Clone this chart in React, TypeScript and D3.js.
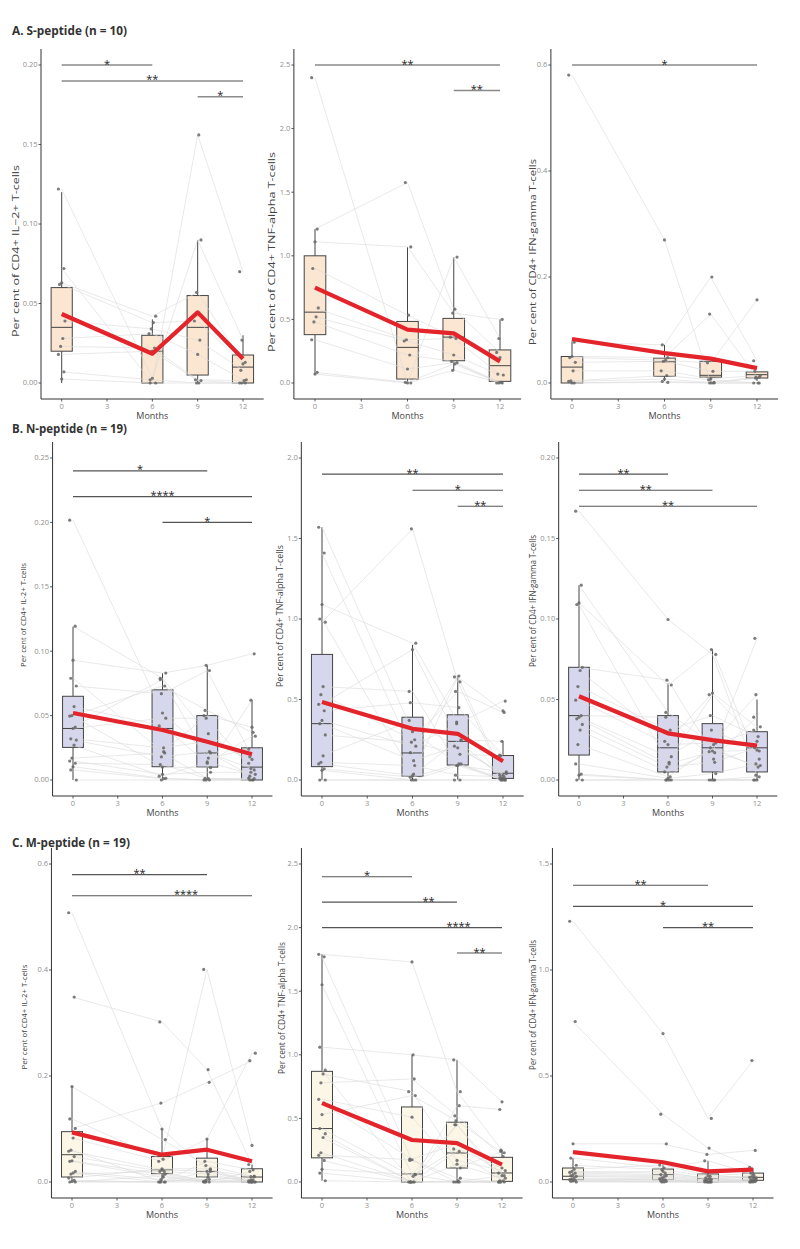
import * as d3 from 'd3';
import * as React from 'react';

const months = [0, 6, 9, 12];
const xTicks = [0, 3, 6, 9, 12];

// ---- A. S-peptide (n = 10) ----
// rows are subjects, columns months 0, 6, 9, 12
const sIl2Subjects = [
  [0.122, 0.003, 0.09, 0.027],
  [0.072, 0.0, 0.156, 0.07],
  [0.063, 0.042, 0.057, 0.013],
  [0.062, 0.038, 0.039, 0.012],
  [0.039, 0.034, 0.027, 0.008],
  [0.028, 0.031, 0.018, 0.002],
  [0.023, 0.022, 0.002, 0.0015],
  [0.018, 0.02, 0.0015, 0.0],
  [0.007, 0.002, 0.0, 0.0],
  [0.0025, 0.0, 0.0, 0.0],
];
// [min, q1, median, q3, max] per month
const sIl2Box = [
  [0.0, 0.02, 0.035, 0.06, 0.12],
  [0.0, 0.0, 0.02, 0.03, 0.04],
  [0.0, 0.005, 0.035, 0.055, 0.09],
  [0.0, 0.0, 0.01, 0.0176, 0.03],
];
const sIl2Mean = [0.0434, 0.0184, 0.0444, 0.0153];
const sIl2Sig = [
  { from: 0, to: 6, y: 0.2, stars: '*' },
  { from: 0, to: 12, y: 0.19, stars: '**' },
  { from: 9, to: 12, y: 0.18, stars: '*' },
];

const sTnfSubjects = [
  [2.4, 0.0, 0.99, 0.35],
  [1.21, 1.576, 0.58, 0.24],
  [1.11, 1.07, 0.55, 0.5],
  [0.9, 0.534, 0.36, 0.2],
  [0.59, 0.34, 0.35, 0.07],
  [0.52, 0.33, 0.22, 0.063],
  [0.48, 0.22, 0.17, 0.005],
  [0.34, 0.11, 0.16, 0.0],
  [0.084, 0.005, 0.15, 0.0],
  [0.07, 0.0, 0.1, 0.0],
];
const sTnfBox = [
  [0.07, 0.38, 0.557, 1.0, 1.21],
  [0.0, 0.031, 0.28, 0.484, 1.07],
  [0.1, 0.175, 0.361, 0.508, 0.99],
  [0.0, 0.013, 0.136, 0.26, 0.5],
];
const sTnfMean = [0.75, 0.42, 0.39, 0.17];
const sTnfSig = [
  { from: 0, to: 12, y: 2.5, stars: '**' },
  { from: 9, to: 12, y: 2.3, stars: '**' },
];

const sIfnSubjects = [
  [0.581, 0.27, 0.0, 0.009],
  [0.077, 0.072, 0.2, 0.042],
  [0.05, 0.048, 0.13, 0.011],
  [0.048, 0.043, 0.038, 0.157],
  [0.039, 0.041, 0.022, 0.022],
  [0.023, 0.023, 0.008, 0.014],
  [0.004, 0.014, 0.006, 0.0],
  [0.003, 0.0075, 0.001, 0.011],
  [0.0, 0.003, 0.0, 0.0],
  [0.0, 0.001, 0.0, 0.0],
];
const sIfnBox = [
  [0.0, 0.0, 0.03, 0.05, 0.079],
  [0.004, 0.0126, 0.04, 0.047, 0.072],
  [0.0, 0.011, 0.0145, 0.041, 0.041],
  [0.004, 0.0094, 0.0157, 0.021, 0.022],
];
const sIfnMean = [0.083, 0.0565, 0.046, 0.028];
const sIfnSig = [{ from: 0, to: 12, y: 0.6, stars: '*' }];

// ---- B. N-peptide (n = 19) ----
const nIl2Subjects = [
  [0.2017, 0.052, 0.021, 0.009],
  [0.1194, 0.079, 0.036, 0.013],
  [0.093, 0.083, 0.089, 0.098],
  [0.079, 0.022, 0.05, 0.041],
  [0.073, 0.067, 0.085, 0.018],
  [0.057, 0.042, 0.013, 0.034],
  [0.05, 0.073, 0.054, 0.037],
  [0.0496, 0.01, 0.0096, 0.062],
  [0.041, 0.078, 0.017, 0.024],
  [0.04, 0.048, 0.048, 0.0078],
  [0.032, 0.025, 0.03, 0.016],
  [0.031, 0.018, 0.022, 0.003],
  [0.027, 0.003, 0.014, 0.0044],
  [0.017, 0.021, 0.0013, 0.0],
  [0.0147, 0.0044, 0.006, 0.006],
  [0.013, 0.012, 0.001, 0.0013],
  [0.0103, 0.0013, 0.0, 0.001],
  [0.0078, 0.001, 0.0, 0.0],
  [0.0, 0.0, 0.0, 0.0],
];
const nIl2Box = [
  [0.0, 0.0253, 0.04, 0.065, 0.119],
  [0.001, 0.0103, 0.04, 0.07, 0.083],
  [0.0, 0.01, 0.021, 0.05, 0.089],
  [0.0, 0.0, 0.01, 0.025, 0.062],
];
const nIl2Mean = [0.052, 0.0388, 0.0297, 0.02];
const nIl2Sig = [
  { from: 0, to: 9, y: 0.24, stars: '*' },
  { from: 0, to: 12, y: 0.22, stars: '****' },
  { from: 6, to: 12, y: 0.2, stars: '*' },
];

const nTnfSubjects = [
  [1.57, 0.3, 0.1, 0.0],
  [1.41, 0.17, 0.646, 0.03],
  [1.09, 0.85, 0.36, 0.0],
  [1.0, 0.037, 0.64, 0.43],
  [0.98, 1.56, 0.61, 0.015],
  [0.58, 0.55, 0.09, 0.05],
  [0.53, 0.25, 0.55, 0.42],
  [0.47, 0.81, 0.25, 0.24],
  [0.43, 0.48, 0.45, 0.155],
  [0.37, 0.21, 0.35, 0.49],
  [0.35, 0.12, 0.21, 0.03],
  [0.28, 0.235, 0.16, 0.15],
  [0.15, 0.37, 0.2, 0.04],
  [0.11, 0.09, 0.03, 0.02],
  [0.1, 0.027, 0.245, 0.01],
  [0.07, 0.017, 0.1, 0.01],
  [0.06, 0.0, 0.09, 0.0],
  [0.0, 0.0, 0.0, 0.0],
  [0.0, 0.0, 0.0, 0.0],
];
const nTnfBox = [
  [0.0, 0.083, 0.35, 0.78, 1.57],
  [0.0, 0.023, 0.168, 0.39, 0.84],
  [0.0, 0.093, 0.24, 0.405, 0.646],
  [0.0, 0.01, 0.042, 0.152, 0.24],
];
const nTnfMean = [0.484, 0.318, 0.287, 0.116];
const nTnfSig = [
  { from: 0, to: 12, y: 1.9, stars: '**' },
  { from: 6, to: 12, y: 1.8, stars: '*' },
  { from: 9, to: 12, y: 1.7, stars: '**' },
];

const nIfnSubjects = [
  [0.167, 0.0997, 0.078, 0.003],
  [0.121, 0.042, 0.022, 0.031],
  [0.11, 0.059, 0.081, 0.013],
  [0.109, 0.011, 0.053, 0.024],
  [0.07, 0.062, 0.017, 0.088],
  [0.068, 0.024, 0.054, 0.033],
  [0.058, 0.031, 0.04, 0.027],
  [0.0496, 0.022, 0.023, 0.053],
  [0.04, 0.039, 0.013, 0.039],
  [0.039, 0.0145, 0.031, 0.018],
  [0.038, 0.01, 0.0176, 0.0186],
  [0.0345, 0.008, 0.011, 0.02],
  [0.031, 0.005, 0.018, 0.009],
  [0.022, 0.002, 0.02, 0.008],
  [0.01, 0.001, 0.004, 0.01],
  [0.0037, 0.0, 0.0, 0.0],
  [0.003, 0.0, 0.0, 0.002],
  [0.0, 0.0, 0.0, 0.0],
  [0.0, 0.0, 0.0, 0.0],
];
const nIfnBox = [
  [0.0, 0.0155, 0.04, 0.07, 0.121],
  [0.0, 0.005, 0.02, 0.04, 0.06],
  [0.0, 0.005, 0.02, 0.035, 0.081],
  [0.0, 0.005, 0.02, 0.03, 0.05],
];
const nIfnMean = [0.052, 0.029, 0.0248, 0.0213];
const nIfnSig = [
  { from: 0, to: 6, y: 0.19, stars: '**' },
  { from: 0, to: 9, y: 0.18, stars: '**' },
  { from: 0, to: 12, y: 0.17, stars: '**' },
];

// ---- C. M-peptide (n = 19) ----
const mIl2Subjects = [
  [0.508, 0.1, 0.023, 0.01],
  [0.349, 0.302, 0.212, 0.033],
  [0.18, 0.08, 0.031, 0.011],
  [0.119, 0.043, 0.401, 0.069],
  [0.101, 0.149, 0.188, 0.229],
  [0.083, 0.039, 0.081, 0.243],
  [0.06, 0.0, 0.039, 0.023],
  [0.058, 0.023, 0.02, 0.004],
  [0.048, 0.02, 0.015, 0.0],
  [0.04, 0.015, 0.003, 0.01],
  [0.039, 0.009, 0.001, 0.0],
  [0.02, 0.0044, 0.0, 0.02],
  [0.017, 0.0, 0.02, 0.0],
  [0.015, 0.02, 0.0, 0.004],
  [0.0075, 0.025, 0.025, 0.0],
  [0.003, 0.0, 0.01, 0.002],
  [0.001, 0.0, 0.0, 0.0],
  [0.0, 0.012, 0.0, 0.0],
  [0.0, 0.0, 0.005, 0.0],
];
const mIl2Box = [
  [0.0, 0.0094, 0.0515, 0.095, 0.18],
  [0.0, 0.0157, 0.023, 0.048, 0.1],
  [0.0, 0.0094, 0.02, 0.045, 0.081],
  [0.0, 0.0, 0.0094, 0.025, 0.033],
];
const mIl2Mean = [0.0936, 0.0515, 0.061, 0.039];
const mIl2Sig = [
  { from: 0, to: 9, y: 0.58, stars: '**' },
  { from: 0, to: 12, y: 0.54, stars: '****', at: 7.6 },
];

const mTnfSubjects = [
  [1.79, 1.73, 0.71, 0.25],
  [1.77, 0.17, 0.0, 0.0],
  [1.55, 0.06, 0.45, 0.05],
  [1.06, 1.0, 0.96, 0.63],
  [0.88, 0.0, 0.6, 0.57],
  [0.85, 0.71, 0.17, 0.09],
  [0.78, 0.81, 0.52, 0.2],
  [0.65, 0.51, 0.11, 0.24],
  [0.62, 0.18, 0.3, 0.07],
  [0.53, 0.68, 0.48, 0.23],
  [0.42, 0.045, 0.26, 0.11],
  [0.38, 0.0, 0.24, 0.01],
  [0.35, 0.0, 0.14, 0.03],
  [0.23, 0.0, 0.45, 0.01],
  [0.21, 0.175, 0.03, 0.0],
  [0.17, 0.0, 0.01, 0.0],
  [0.1, 0.058, 0.0, 0.0],
  [0.07, 0.0, 0.0, 0.05],
  [0.01, 0.0, 0.0, 0.0],
];
const mTnfBox = [
  [0.01, 0.19, 0.42, 0.87, 1.79],
  [0.0, 0.0, 0.063, 0.59, 1.0],
  [0.0, 0.11, 0.228, 0.47, 0.96],
  [0.0, 0.005, 0.071, 0.194, 0.254],
];
const mTnfMean = [0.62, 0.33, 0.306, 0.136];
const mTnfSig = [
  { from: 0, to: 6, y: 2.4, stars: '*' },
  { from: 0, to: 9, y: 2.2, stars: '**', at: 7.1 },
  { from: 0, to: 12, y: 2.0, stars: '****', at: 9.1 },
  { from: 9, to: 12, y: 1.8, stars: '**' },
];

const mIfnSubjects = [
  [1.23, 0.7, 0.3, 0.573],
  [0.757, 0.32, 0.16, 0.069],
  [0.18, 0.18, 0.13, 0.149],
  [0.113, 0.066, 0.1, 0.038],
  [0.079, 0.058, 0.027, 0.042],
  [0.06, 0.08, 0.03, 0.02],
  [0.05, 0.042, 0.02, 0.03],
  [0.045, 0.05, 0.012, 0.025],
  [0.042, 0.035, 0.016, 0.022],
  [0.035, 0.03, 0.01, 0.015],
  [0.03, 0.025, 0.008, 0.012],
  [0.027, 0.02, 0.005, 0.01],
  [0.019, 0.015, 0.0, 0.008],
  [0.015, 0.01, 0.003, 0.006],
  [0.011, 0.011, 0.0, 0.005],
  [0.008, 0.005, 0.0, 0.0],
  [0.005, 0.003, 0.0, 0.002],
  [0.003, 0.0, 0.0, 0.0],
  [0.0, 0.0, 0.0, 0.0],
];
const mIfnBox = [
  [0.0, 0.011, 0.027, 0.066, 0.113],
  [0.0, 0.011, 0.035, 0.061, 0.082],
  [0.0, 0.0, 0.016, 0.038, 0.1],
  [0.0, 0.008, 0.022, 0.042, 0.066],
];
const mIfnMean = [0.141, 0.093, 0.05, 0.058];
const mIfnSig = [
  { from: 0, to: 9, y: 1.4, stars: '**' },
  { from: 0, to: 12, y: 1.3, stars: '*' },
  { from: 6, to: 12, y: 1.2, stars: '**' },
];

const il2Label = 'Per cent of CD4+ IL\u22122+ T-cells';
const il2LabelB = 'Per cent  of CD4+ IL-2+ T-cells';
const tnfLabel = 'Per cent of CD4+ TNF-alpha T-cells';
const ifnLabel = 'Per cent of CD4+ IFN-gamma T-cells';

// ---- layout ----
const rows = [
  { title: 'A. S-peptide (n = 10)', titleY: 35, titleW: 115, y0: 383, yTop: 65, fill: '#fbe6d2', sigColor: '#8a8a8a', sigW: 1.5 },
  { title: 'B. N-peptide (n = 19)', titleY: 433, titleW: 115, y0: 780, yTop: 458, fill: '#d6d6ec', sigColor: '#555', sigW: 1.1 },
  { title: 'C. M-peptide (n = 19)', titleY: 847, titleW: 118, y0: 1182, yTop: 864, fill: '#fbf6e6', sigColor: '#555', sigW: 1.1 },
];

const panels = [
  { row: 0, x0: 61.7, x12: 243, lx: 16, ly: 251, lw: 172, lf: 9, label: il2Label, subjects: sIl2Subjects, box: sIl2Box, mean: sIl2Mean, sig: sIl2Sig, yMax: 0.2, yStep: 0.05, fmt: '.2f' },
  { row: 0, x0: 315, x12: 500, lx: 272, ly: 252, lw: 200, lf: 9, label: tnfLabel, subjects: sTnfSubjects, box: sTnfBox, mean: sTnfMean, sig: sTnfSig, yMax: 2.5, yStep: 0.5, fmt: '.1f' },
  { row: 0, x0: 572, x12: 757, lx: 533, ly: 252, lw: 186, lf: 9, label: ifnLabel, subjects: sIfnSubjects, box: sIfnBox, mean: sIfnMean, sig: sIfnSig, yMax: 0.6, yStep: 0.2, fmt: '.1f' },
  { row: 1, x0: 73, x12: 252, lx: 23, ly: 615, lw: 104, lf: 8, label: il2LabelB, subjects: nIl2Subjects, box: nIl2Box, mean: nIl2Mean, sig: nIl2Sig, yMax: 0.25, yStep: 0.05, fmt: '.2f' },
  { row: 1, x0: 322, x12: 503, lx: 280, ly: 616, lw: 142, lf: 8.5, label: tnfLabel, subjects: nTnfSubjects, box: nTnfBox, mean: nTnfMean, sig: nTnfSig, yMax: 2.0, yStep: 0.5, fmt: '.1f' },
  { row: 1, x0: 579, x12: 757, lx: 533, ly: 601, lw: 132, lf: 8.5, label: ifnLabel, subjects: nIfnSubjects, box: nIfnBox, mean: nIfnMean, sig: nIfnSig, yMax: 0.2, yStep: 0.05, fmt: '.2f' },
  { row: 2, x0: 72, x12: 252, lx: 24, ly: 1017, lw: 105, lf: 8, label: il2LabelB, subjects: mIl2Subjects, box: mIl2Box, mean: mIl2Mean, sig: mIl2Sig, yMax: 0.6, yStep: 0.2, fmt: '.1f' },
  { row: 2, x0: 322, x12: 502, lx: 282, ly: 1008, lw: 132, lf: 8.5, label: tnfLabel, subjects: mTnfSubjects, box: mTnfBox, mean: mTnfMean, sig: mTnfSig, yMax: 2.5, yStep: 0.5, fmt: '.1f' },
  { row: 2, x0: 573, x12: 753, lx: 533, ly: 1005, lw: 130, lf: 8.5, label: ifnLabel, subjects: mIfnSubjects, box: mIfnBox, mean: mIfnMean, sig: mIfnSig, yMax: 1.5, yStep: 0.5, fmt: '.1f' },
];

const font = "'Open Sans', 'Noto Sans', sans-serif";
const pad = 1.37; // months of padding either side of the x range
const boxHalf = 0.7; // half box width in months

const Panel: React.FC<{ p: (typeof panels)[number] }> = ({ p }) => {
  const r = rows[p.row];
  const x = d3.scaleLinear().domain([0, 12]).range([p.x0, p.x12]);
  const y = d3.scaleLinear().domain([0, p.yMax]).range([r.y0, r.yTop]);
  const left = x(-pad);
  const right = x(12 + pad);
  const bottom = r.y0 + 16;
  const top = r.yTop - 16;
  const yTicks = d3.range(0, p.yMax + p.yStep / 2, p.yStep);
  const fmt = d3.format(p.fmt);

  const subjLine = d3
    .line<number | null>()
    .defined((d) => d !== null)
    .x((_, i) => x(months[i]))
    .y((d) => y(d as number));

  const meanLine = d3
    .line<number>()
    .x((_, i) => x(months[i]))
    .y((d) => y(d));

  return (
    <g>
      {/* boxes */}
      {p.box.map((b, i) => {
        const cx = x(months[i]);
        const w = x(boxHalf) - x(0);
        return (
          <g key={'b' + i} stroke="#444" strokeWidth={1}>
            <line x1={cx} x2={cx} y1={y(b[3])} y2={y(b[4])} />
            <line x1={cx} x2={cx} y1={y(b[1])} y2={y(b[0])} />
            <rect x={cx - w} width={2 * w} y={y(b[3])} height={Math.max(0.5, y(b[1]) - y(b[3]))} fill={r.fill} />
            <line x1={cx - w} x2={cx + w} y1={y(b[2])} y2={y(b[2])} />
          </g>
        );
      })}
      {/* individual trajectories */}
      {p.subjects.map((s, i) => (
        <path key={'s' + i} d={subjLine(s) ?? ''} fill="none" stroke="#dadada" strokeWidth={0.6} />
      ))}
      {/* points */}
      {p.subjects.map((s, i) =>
        s.map((v, k) => {
          const jitter = (((i * 5 + k * 3) % 7) - 3) * 1.1;
          return (
            <circle key={`p${i}-${k}`} cx={x(months[k]) + jitter} cy={y(v)} r={1.6} fill="#666" fillOpacity={0.85} />
          );
        })
      )}
      {/* mean */}
      <path d={meanLine(p.mean) ?? ''} fill="none" stroke="#e3242b" strokeWidth={4.2} strokeLinejoin="round" />
      {/* significance bars */}
      {p.sig.map((s, i) => (
        <g key={'g' + i}>
          <line x1={x(s.from)} x2={x(s.to)} y1={y(s.y)} y2={y(s.y)} stroke={r.sigColor} strokeWidth={r.sigW} />
          <text x={x((s as any).at ?? (s.from + s.to) / 2)} y={y(s.y) + 2.5} textAnchor="middle" fontSize={11} fill="#222" fontFamily={font}>
            {s.stars}
          </text>
        </g>
      ))}
      {/* axes */}
      <line x1={left} x2={left} y1={top} y2={bottom} stroke="#333" strokeWidth={1} />
      <line x1={left} x2={right} y1={bottom} y2={bottom} stroke="#333" strokeWidth={1} />
      {yTicks.map((t) => (
        <g key={'y' + t}>
          <line x1={left - 2.5} x2={left} y1={y(t)} y2={y(t)} stroke="#333" strokeWidth={0.8} />
          <text x={left - 3.5} y={y(t)} dy="0.33em" textAnchor="end" fontSize={7.5} fill="#8f8f8f" fontFamily={font}>
            {fmt(t)}
          </text>
        </g>
      ))}
      {xTicks.map((t) => (
        <g key={'x' + t}>
          <line x1={x(t)} x2={x(t)} y1={bottom} y2={bottom + 2.5} stroke="#333" strokeWidth={0.8} />
          <text x={x(t)} y={bottom + 10} textAnchor="middle" fontSize={7.5} fill="#8f8f8f" fontFamily={font}>
            {t}
          </text>
        </g>
      ))}
      <text x={(left + right) / 2} y={bottom + 20} textAnchor="middle" fontSize={9} fill="#444" fontFamily={font}>
        Months
      </text>
      <text
        transform={`translate(${p.lx},${p.ly}) rotate(-90)`}
        textAnchor="middle"
        dy="0.35em"
        fontSize={p.lf}
        fill="#444"
        fontFamily={font}
        textLength={p.lw}
        lengthAdjust="spacingAndGlyphs"
      >
        {p.label}
      </text>
    </g>
  );
};

export default function App() {
  return (
    <svg width={800} height={1249} style={{ position: 'absolute', left: 0, top: 0, background: '#fff' }}>
      {rows.map((r) => (
        <text
          key={r.title}
          x={12}
          y={r.titleY}
          fontSize={13}
          fontWeight={700}
          fill="#333"
          fontFamily={font}
          textLength={r.titleW}
          lengthAdjust="spacingAndGlyphs"
        >
          {r.title}
        </text>
      ))}
      {panels.map((p, i) => (
        <Panel key={i} p={p} />
      ))}
    </svg>
  );
}
